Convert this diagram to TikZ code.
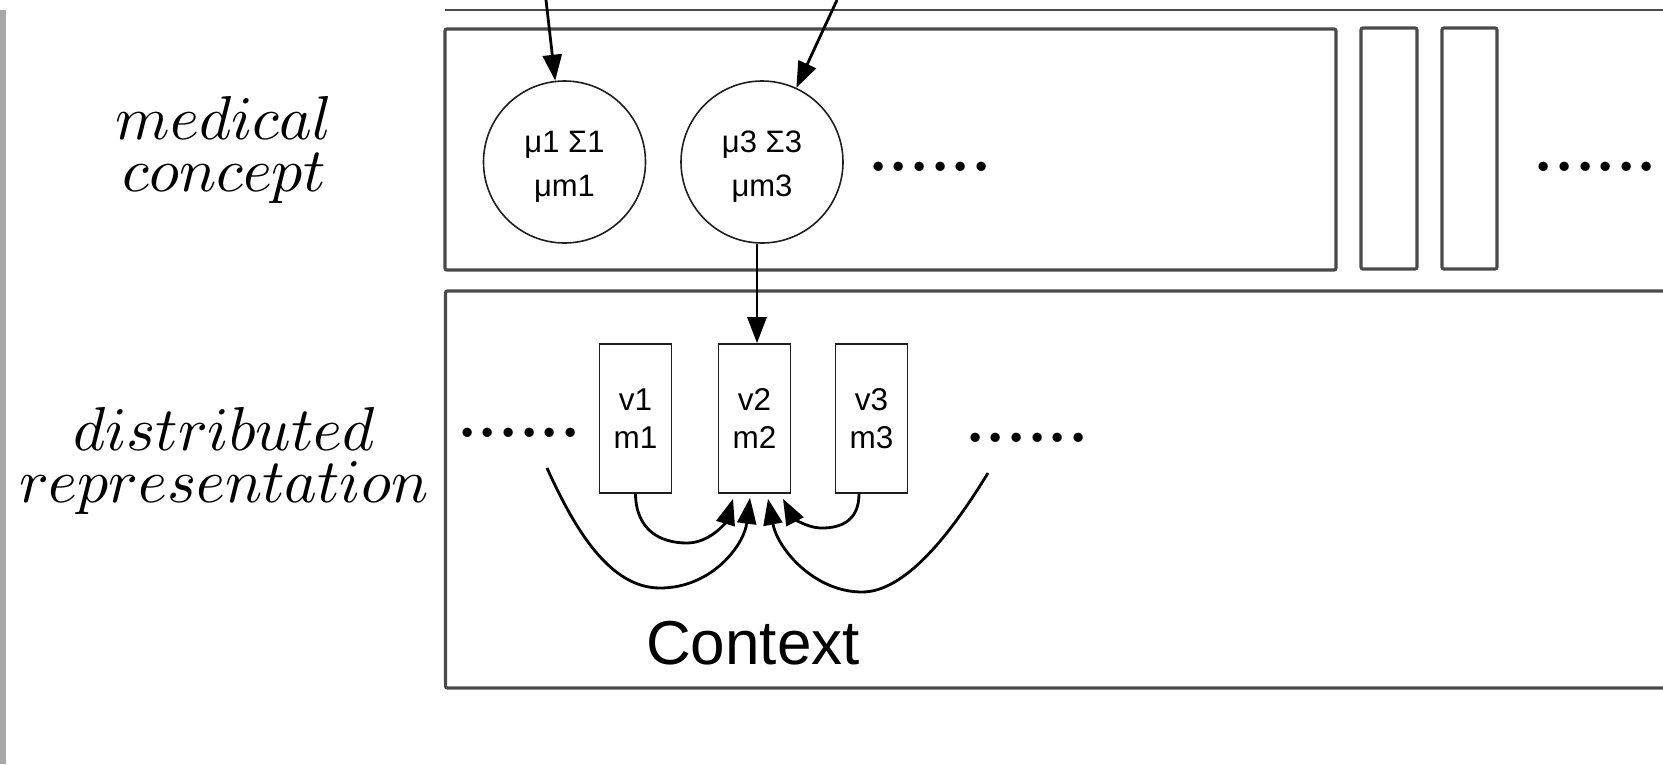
\documentclass[tikz,border=0pt]{standalone}
\usepackage{fontspec}
\newfontfamily\hv{Liberation Sans}
\usetikzlibrary{arrows.meta,calc}
\definecolor{framegray}{HTML}{4A4A4A}
\definecolor{bargray}{HTML}{A8A8A8}
\definecolor{inkgray}{HTML}{1E1E1E}
\newcommand\sixdots{.\kern0.3pt.\kern0.3pt.\kern0.3pt.\kern0.3pt.\kern0.3pt.}
\begin{document}
\begin{tikzpicture}[x=1pt,y=-1pt,
  panel/.style={draw=framegray, line width=3.2pt, rounded corners=2pt, inner sep=0pt},
  circ/.style={circle, draw=inkgray, line width=1.6pt, minimum size=162pt, inner sep=0pt},
  circtext/.style={align=center, inner sep=0pt, font=\hv\fontsize{31}{44}\selectfont},
  vecbox/.style={draw=inkgray, line width=1.6pt, minimum width=72pt, minimum height=149pt,
                 inner sep=0pt, align=center, font=\hv\fontsize{31.5}{38.5}\selectfont},
  arr/.style={line width=2.8pt, -{Triangle[length=26pt,width=19pt]}},
  lbl/.style={align=center, inner sep=0pt, scale=6.2, font=\fontsize{10}{8.5}\selectfont},
  dotrow/.style={inner sep=0pt, font=\fontsize{65}{65}\selectfont\bfseries}]
\useasboundingbox (0,0) rectangle (1663,764);
% left grey bar
\fill[bargray] (0,10) rectangle (6,764);
% top line of the panel above
\draw[draw=framegray, line width=2.6pt] (445,10) -- (1663,10);
% upper panels
\node[panel, minimum width=891pt, minimum height=241pt] (f1) at (890.5,149.5) {};
\node[panel, minimum width=56pt, minimum height=241pt] (f2) at (1389,148.5) {};
\node[panel, minimum width=55pt, minimum height=241pt] (f3) at (1469.5,148.5) {};
% lower panel (open to the right)
\draw[draw=framegray, line width=3.2pt, rounded corners=2pt] (1663,291) -| (445.5,688) -- (1663,688);
% labels
\node[lbl] (lmc) at (224,150) {$medical$\\$concept$};
\node[lbl] (ldr) at (224,461) {$distributed$\\$representation$};
% concept circles
\node[circ] (c1) at (564.5,162) {};
\node[circtext] (c1t) at ($(c1)+(0,5)$) {μ1 Σ1\\μm1};
\node[circ] (c2) at (762,162) {};
\node[circtext] (c2t) at ($(c2)+(0,5)$) {μ3 Σ3\\μm3};
% dots
\node[dotrow] (dt1) at (930,167) {\sixdots};
\node[dotrow] (dt2) at (1595.5,167) {\sixdots};
\node[dotrow] (dt3) at (519,433) {\sixdots};
\node[dotrow] (dt4) at (1027,438) {\sixdots};
% incoming arrows
\coordinate (s1) at (546,0);
\coordinate (s2) at (837,0);
\draw[arr] (s1) -- (c1);
\draw[arr] (s2) -- (c2);
% vector boxes
\node[vecbox] (v1) at (635.5,418.5) {v1\\m1};
\node[vecbox] (v2) at (754.5,418.5) {v2\\m2};
\node[vecbox] (v3) at (871.5,418.5) {v3\\m3};
\draw[arr] ([xshift=2.5pt]c2.south -| v2.north) -- ([xshift=2.5pt]v2.north);
% context arrows
\coordinate (a0) at (547,468);
\coordinate (d0) at (988,473);
\draw[arr] (a0) .. controls (575,530) and (610,588) .. (660,588)
  .. controls (712,588) and (744,545) .. ($(v2.south)+(-4.5,4)$);
\draw[arr] (v1.south) .. controls (636,530) and (660,543) .. (687,543)
  .. controls (710,543) and (726,522) .. ($(v2.south)+(-21.5,5)$);
\draw[arr] ([xshift=-12.5pt]v3.south) .. controls (859,520) and (842,528) .. (822,528)
  .. controls (805,528) and (792,516) .. ($(v2.south)+(28.5,5)$);
\draw[arr] (d0) .. controls (950,535) and (905,592) .. (862,592)
  .. controls (815,592) and (778,550) .. ($(v2.south)+(13.5,5)$);
% context label
\node[anchor=base, inner sep=0pt, font=\hv\fontsize{62}{62}\selectfont] (ctx) at (753,664) {Context};
\end{tikzpicture}
\end{document}
